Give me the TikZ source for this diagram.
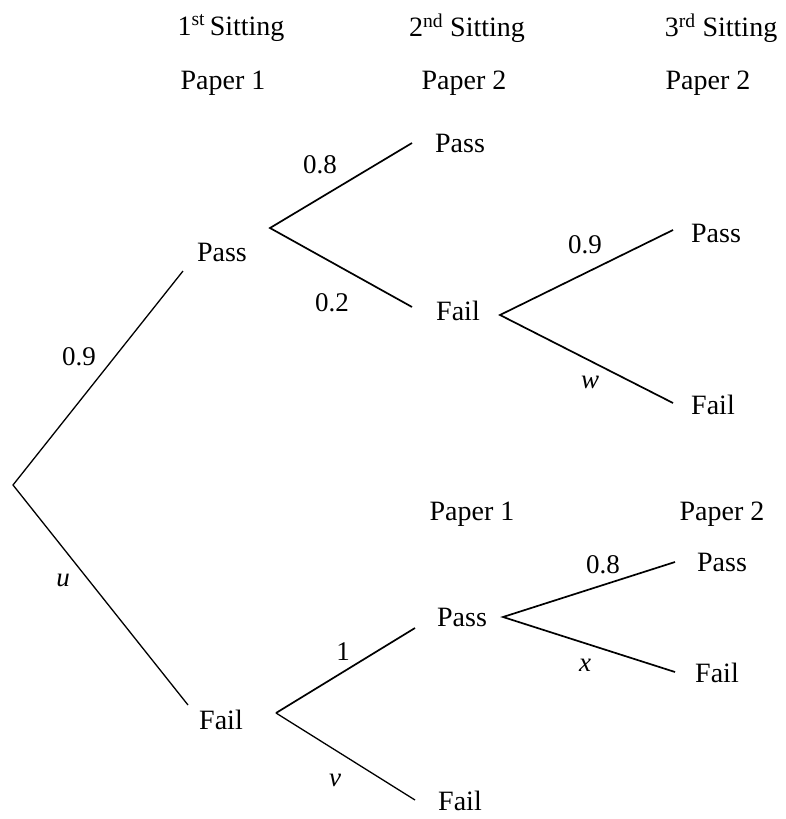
\documentclass[tikz,border=0pt]{standalone}
\usepackage{fontspec}
\setmainfont{Liberation Serif}
\begin{document}
\begin{tikzpicture}[x=1pt,y=-1pt,
  lbl/.style={font=\fontsize{28}{32}\selectfont, inner sep=0pt},
  prob/.style={font=\fontsize{27}{30}\selectfont, inner sep=0pt},
  branch/.style={line width=1.3pt},
  branchb/.style={line width=1.7pt}]
\useasboundingbox (0,0) rectangle (786,819);
% headers
\node[lbl] (h1) at (231,28) {1\textsuperscript{st}\,Sitting};
\node[lbl] (h2) at (467,28) {2\textsuperscript{nd} Sitting};
\node[lbl] (h3) at (721,28) {3\textsuperscript{rd} Sitting};
\node[lbl] (p1) at (223,83) {Paper 1};
\node[lbl] (p2) at (464,83) {Paper 2};
\node[lbl] (p3) at (708,83) {Paper 2};
\node[lbl] (p4) at (472,514) {Paper 1};
\node[lbl] (p5) at (722,514) {Paper 2};
% outcome nodes
\node[lbl] (A) at (222,252) {Pass};
\node[lbl] (B) at (221,720) {Fail};
\node[lbl] (AP) at (460,143) {Pass};
\node[lbl] (AF) at (458,311) {Fail};
\node[lbl] (AFP) at (716,233) {Pass};
\node[lbl] (AFF) at (713,405) {Fail};
\node[lbl] (BP) at (462,617) {Pass};
\node[lbl] (BF) at (460,801) {Fail};
\node[lbl] (BPP) at (722,562) {Pass};
\node[lbl] (BPF) at (717,673) {Fail};
% connector points
\coordinate (R) at (13,485);
\coordinate (Ain) at (183,271);
\coordinate (Bin) at (188,705);
\coordinate (Aout) at (270,228);
\coordinate (APin) at (412,143);
\coordinate (AFin) at (412,307);
\coordinate (AFout) at (500,315);
\coordinate (AFPin) at (673,230);
\coordinate (AFFin) at (673,403);
\coordinate (Bout) at (276,713);
\coordinate (BPin) at (415,628);
\coordinate (BFin) at (415,800);
\coordinate (BPout) at (503,617);
\coordinate (BPPin) at (675,562);
\coordinate (BPFin) at (675,672);
% branches
\draw[branch] (Ain) -- (R) -- (Bin);
\draw[branchb] (APin) -- (Aout) -- (AFin);
\draw[branchb] (AFPin) -- (AFout) -- (AFFin);
\draw[branchb] (BPin) -- (Bout);
\draw[branch] (Bout) -- (BFin);
\draw[branchb] (BPPin) -- (BPout) -- (BPFin);
% probabilities
\node[prob] (q1) at (79,357) {0.9};
\node[prob] (q2) at (63,580) {\textit{u}};
\node[prob] (q3) at (320,165) {0.8};
\node[prob] (q4) at (332,303) {0.2};
\node[prob] (q5) at (585,245) {0.9};
\node[prob] (q6) at (590,382) {\textit{w}};
\node[prob] (q7) at (343,652) {1};
\node[prob] (q8) at (335,780) {\textit{v}};
\node[prob] (q9) at (603,565) {0.8};
\node[prob] (q10) at (585,665) {\textit{x}};
\end{tikzpicture}
\end{document}
